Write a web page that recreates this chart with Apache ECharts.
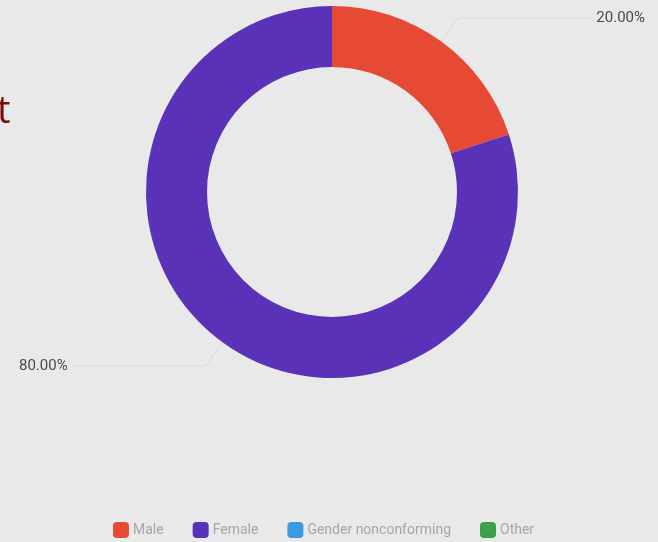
<!DOCTYPE html>
<html><head><meta charset="utf-8">
<script src="https://cdn.jsdelivr.net/npm/echarts@6/dist/echarts.min.js"></script>
<style>html,body{margin:0;padding:0;background:#e9e9e9}#c{width:658px;height:542px}</style>
</head><body><div id="c"></div>
<script>
const categories = ["Male", "Female", "Gender nonconforming", "Other"];
const values = [20, 80, 0, 0];
const colors = ["#e64a35", "#5a32b8", "#3a9be0", "#3ea04a"];

const chart = echarts.init(document.getElementById('c'), null, {renderer: 'canvas'});
chart.setOption({
  backgroundColor: '#e9e9e9',
  animation: false,
  color: colors,
  graphic: [{
    type: 'text', left: -3, top: 93,
    style: {text: 't', fill: '#7a0c0c', font: '38px "Open Sans", Roboto, sans-serif'}
  }],
  legend: {
    top: 517, left: 108,
    icon: 'roundRect', itemWidth: 16, itemHeight: 16, itemGap: 29,
    textStyle: {color: '#a6a6a6', fontSize: 14, fontFamily: 'Roboto', padding: [0, 0, 0, -1]},
    data: categories
  },
  series: [{
    type: 'pie',
    center: [332, 192],
    radius: [125, 186],
    startAngle: 90,
    clockwise: true,
    stillShowZeroSum: false,
    avoidLabelOverlap: false,
    data: categories.map((n, i) => ({name: n, value: values[i],
      label: {show: values[i] > 0}, labelLine: {show: values[i] > 0}})),
    label: {
      formatter: p => p.percent.toFixed(2) + '%',
      color: '#4a4a4a', fontSize: 15, fontFamily: 'Roboto',
      alignTo: 'none', distanceToLabelLine: 6
    },
    labelLine: {length: 29, length2: 132, lineStyle: {color: '#dadada', width: 1}},
    itemStyle: {borderWidth: 0},
    emphasis: {disabled: true}
  }]
});
</script></body></html>
